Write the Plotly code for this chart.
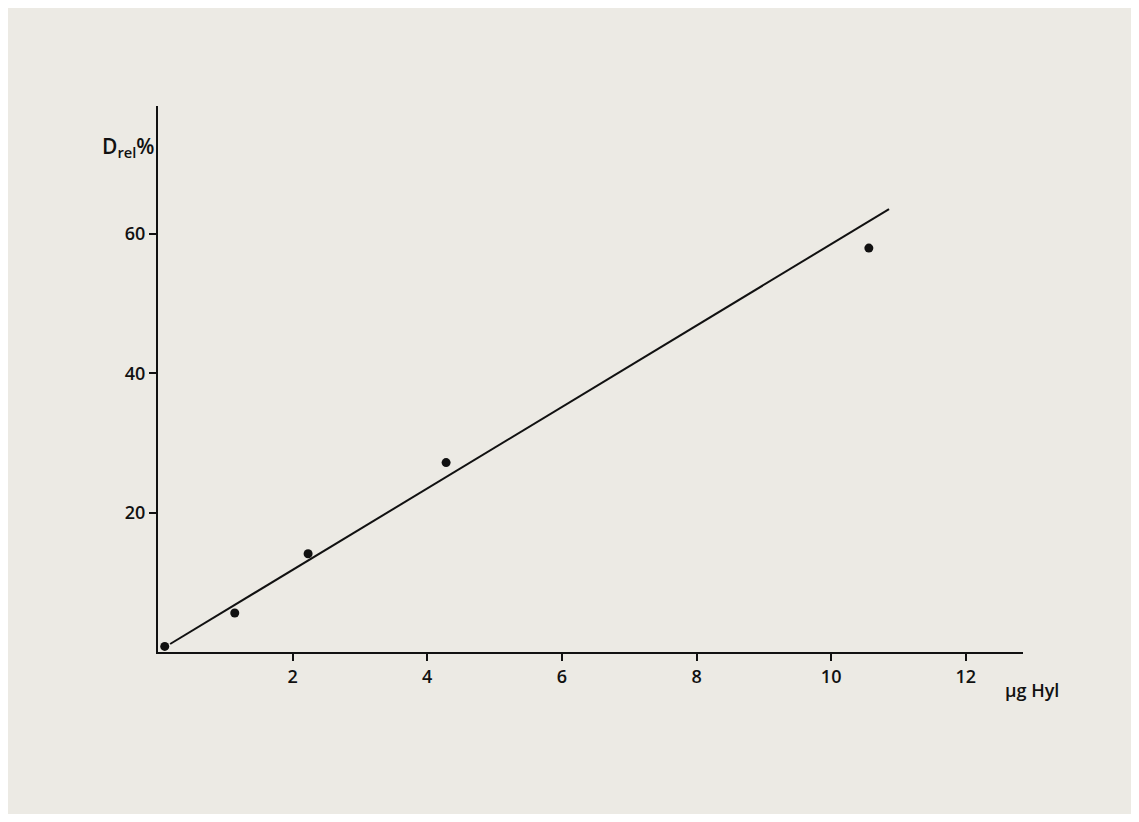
import plotly.graph_objects as go

# Measured points (µg Hyl vs D_rel %)
x_points = [0.10, 1.14, 2.23, 4.28, 10.56]
y_points = [0.8, 5.6, 14.1, 27.2, 58.0]

# Fitted calibration line end points
x_line = [0.18, 10.86]
y_line = [1.15, 63.6]

x_ticks = [2, 4, 6, 8, 10, 12]
y_ticks = [20, 40, 60]

bg = "#ECEAE4"
font_family = "Open Sans"

fig = go.Figure()
fig.add_trace(go.Scatter(x=x_line, y=y_line, mode="lines",
                         line=dict(color="#111111", width=2), showlegend=False))
fig.add_trace(go.Scatter(x=x_points, y=y_points, mode="markers",
                         marker=dict(color="#111111", size=9), showlegend=False))

axis_common = dict(showline=True, linecolor="#111111", linewidth=2,
                   ticks="outside", ticklen=7, tickwidth=2, tickcolor="#111111",
                   showgrid=False, zeroline=False,
                   tickfont=dict(family=font_family, size=18, color="#111111", weight=600))

fig.update_layout(
    width=1123, height=806,
    margin=dict(l=150, r=108, t=98, b=162),
    paper_bgcolor=bg, plot_bgcolor=bg,
    xaxis=dict(range=[0, 12.85], tickvals=x_ticks, ticktext=[str(v) for v in x_ticks], **axis_common),
    yaxis=dict(range=[0, 78.4], tickvals=y_ticks, ticktext=[str(v) for v in y_ticks], **axis_common),
    annotations=[
        dict(text="D<sub>rel</sub>%", xref="paper", yref="paper", x=-0.002, y=0.925,
             xanchor="right", yanchor="middle", showarrow=False,
             font=dict(family=font_family, size=21, color="#111111", weight=600)),
        dict(text="µg Hyl", xref="paper", yref="paper", x=1.0104, y=-0.07,
             xanchor="center", yanchor="middle", showarrow=False,
             font=dict(family=font_family, size=18, color="#111111", weight=600)),
    ],
)

fig.write_html("out.html")
